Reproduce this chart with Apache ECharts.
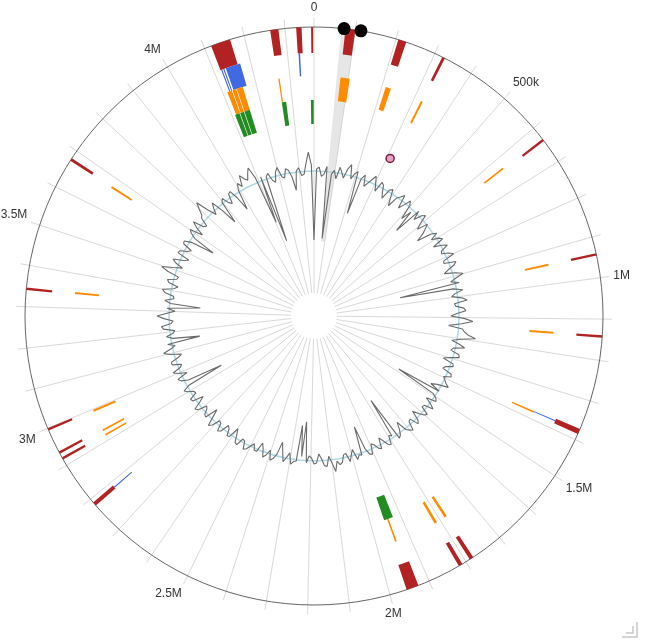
<!DOCTYPE html>
<html><head><meta charset="utf-8">
<script src="https://cdn.jsdelivr.net/npm/echarts@6/dist/echarts.min.js"></script>
<style>html,body{margin:0;padding:0;background:#fff}#c{width:648px;height:640px}</style>
</head><body><div id="c"></div>
<script>
const genomeLength = 4370000;
const tickValues = [0, 500000, 1000000, 1500000, 2000000, 2500000, 3000000, 3500000, 4000000];
const tickText = ['0', '500k', '1M', '1.5M', '2M', '2.5M', '3M', '3.5M', '4M'];

const redFeatures = [
  [4363000, 4368000], [4327000, 4340000], [4264000, 4284000], [4117000, 4165000],
  [76000, 100000], [206000, 226000], [320000, 327000], [634000, 640000],
  [940000, 946000], [1139000, 1145000], [1372000, 1385000], [1810000, 1820000],
  [1779000, 1789000], [1928000, 1958000], [2780000, 2790000], [2916000, 2922000],
  [2932000, 2938000], [2994000, 3000000], [3340000, 3346000], [3672000, 3679000]
];
const blueFeatures = [
  [4132000, 4172000], [4119000, 4122000], [4125000, 4128000], [4329000, 4333000],
  [1376000, 1379000], [2783000, 2786000]
];
const orangeFeatures = [
  [4113000, 4127000], [4129000, 4140000], [4142000, 4160000], [4266000, 4270000],
  [77000, 104000], [211000, 227000], [321000, 327000], [629000, 634000],
  [940000, 946000], [1138000, 1144000], [1376000, 1381000], [1811000, 1819000],
  [1777000, 1785000], [1940000, 1945000], [2992000, 2998000], [2930000, 2935000],
  [2915000, 2920000], [3341000, 3347000], [3669000, 3675000]
];
const greenFeatures = [
  [4110000, 4125000], [4127000, 4140000], [4142000, 4160000], [4266000, 4280000],
  [4360000, 4369000], [1925000, 1955000]
];
const highlightRegions = [[66000, 100000]];
const blackMarkers = [72500, 113500];
const pinkMarkers = [313000];

// sliding-window values (deviation from mean), one per 1/360 of the genome
const gcValues = [
  -69, 2, 4, -5, -3, 5, -67, -2, 2, -6, 6, 1, -4, 6, 11, -3, 3, 6, -37, 0,
  5, -6, -2, 3, 8, 1, -6, 5, 3, -4, -9, 2, 4, -5, -12, -1, 2, 6, -8, -2,
  5, 1, -14, -3, -26, 3, -6, 2, 5, -4, -10, 1, -4, -9, -17, -2, 3, -5, 2, 5,
  -7, 1, 6, -2, -3, 4, 8, -4, -5, 7, 4, -3, -8, 3, 10, 2, -4, 4, -57, -3,
  6, -2, -6, 4, 9, -4, -3, 5, 7, -2, -8, 6, 14, 3, -10, 4, 6, 10, 18, 4,
  -5, 3, 9, -2, -4, 5, 6, -3, -9, 2, 3, -4, -6, 4, 5, -2, -3, 3, 7, -4,
  -10, 1, -45, -3, 2, 4, -6, 1, 6, -3, -4, 5, 3, -2, -8, 2, 5, -4, -3, 6,
  4, 1, -10, -3, 2, 4, -43, -2, -4, 5, 3, -2, -7, 4, 2, -3, -5, 5, 4, -3,
  -27, 2, 1, 5, -6, -1, 5, -4, -3, 4, 6, 2, 12, 3, -4, 6, 5, -2, -7, 2,
  3, -3, -5, 2, -39, -4, -35, 1, 2, 5, -6, -1, 4, -6, -15, -2, 3, 6, -4, 2,
  5, -3, -8, 2, 2, -4, -5, 4, 6, -2, -3, 5, 4, -3, -9, 2, 3, -4, -6, 3,
  5, -3, -4, 4, 7, -2, -10, 3, 2, -3, -5, 4, 6, -2, -8, 3, 4, -4, -3, 2,
  5, -2, -40, -4, 3, 5, -6, 2, 7, -2, -4, 5, 5, -3, -7, 4, 10, 2, -3, 4,
  -29, -2, 4, -3, -5, 6, 8, -2, -4, 5, 12, 3, -6, 2, -31, -1, 5, -4, -3, 6,
  9, -2, -6, 4, 6, -3, -4, 8, 15, 4, -5, 3, 7, -3, -8, 5, 4, -3, -6, 4,
  5, -2, -26, -3, 3, 6, -7, 2, 8, -3, -5, 4, 6, 12, 18, 5, -4, 2, 7, -5,
  -22, 1, 4, -3, -6, 4, 5, -4, -19, 2, 8, 3, 14, 9, 6, 12, 17, 5, -44, 4,
  -65, 2, 5, -3, -6, 4, 8, -2, -4, 5, 3, -4, -18, 1, 4, -4, -3, 8, 19, 6
];

const CX = 314, CY = 316;
const R_OUT = 289;
const tracks = {
  red: [263, 289, '#b22222'],
  blue: [240, 263, '#4169e1'],
  orange: [216, 240, '#ff8c00'],
  green: [192, 216, '#228b22']
};

function sectorRender(rIn, rOut, color, opacity) {
  return function (params, api) {
    const c = params.coordSys;
    const s = api.value(0), e = api.value(1);
    const a = api.coord([rIn, s]);
    const b = api.coord([rOut, e]);
    const sa = Math.atan2(a[1] - c.cy, a[0] - c.cx);
    let ea = Math.atan2(b[1] - c.cy, b[0] - c.cx);
    if (ea < sa) ea += Math.PI * 2;
    const r0 = Math.hypot(a[0] - c.cx, a[1] - c.cy);
    const r = Math.hypot(b[0] - c.cx, b[1] - c.cy);
    return {
      type: 'sector',
      shape: { cx: c.cx, cy: c.cy, r0: r0, r: r, startAngle: sa, endAngle: ea, clockwise: true },
      style: { fill: color, opacity: opacity == null ? 1 : opacity }
    };
  };
}
function circleRender(radiusValue, stroke, width) {
  return function (params, api) {
    const c = params.coordSys;
    const p = api.coord([radiusValue, 0]);
    return {
      type: 'circle',
      shape: { cx: c.cx, cy: c.cy, r: Math.hypot(p[0] - c.cx, p[1] - c.cy) },
      style: { fill: 'none', stroke: stroke, lineWidth: width }
    };
  };
}
function trackSeries(list, key) {
  const t = tracks[key];
  return {
    type: 'custom', coordinateSystem: 'polar', polarIndex: 0, z: 3,
    data: list, renderItem: sectorRender(t[0], t[1], t[2]), silent: true
  };
}

const step = genomeLength / gcValues.length;
const lineData = gcValues.map((v, i) => [v, i * step]);
lineData.push([gcValues[0], genomeLength]);

const chart = echarts.init(document.getElementById('c'), null, { renderer: 'canvas' });
chart.setOption({
  animation: false,
  backgroundColor: '#fff',
  polar: [
    { center: [CX, CY], radius: [23, 298] },
    { center: [CX, CY], radius: [75, 165] }
  ],
  angleAxis: [
    {
      polarIndex: 0, type: 'value', min: 0, max: genomeLength, interval: 100000,
      startAngle: 90, clockwise: true,
      axisLine: { show: false }, axisTick: { show: false },
      splitLine: { show: true, lineStyle: { color: '#d9d9d9', width: 1 } },
      axisLabel: {
        show: true, margin: 4, color: '#333', fontSize: 12,
        fontFamily: 'Liberation Sans, Arial, sans-serif',
        formatter: function (v) { const i = tickValues.indexOf(v); return i >= 0 ? tickText[i] : ''; }
      }
    },
    {
      polarIndex: 1, type: 'value', min: 0, max: genomeLength, startAngle: 90, clockwise: true,
      axisLine: { show: false }, axisTick: { show: false }, axisLabel: { show: false }, splitLine: { show: false }
    }
  ],
  radiusAxis: [
    { polarIndex: 0, type: 'value', min: 23, max: 298, axisLine: { show: false }, axisTick: { show: false }, axisLabel: { show: false }, splitLine: { show: false } },
    { polarIndex: 1, type: 'value', min: -70, max: 20, axisLine: { show: false }, axisTick: { show: false }, axisLabel: { show: false }, splitLine: { show: false } }
  ],
  series: [
    {
      type: 'custom', coordinateSystem: 'polar', polarIndex: 0, z: 2, silent: true,
      data: highlightRegions, renderItem: sectorRender(75, R_OUT, '#c8c8c8', 0.45)
    },
    {
      type: 'custom', coordinateSystem: 'polar', polarIndex: 0, z: 2, silent: true,
      data: [[0]], renderItem: circleRender(R_OUT, '#666', 1)
    },
    trackSeries(redFeatures, 'red'),
    trackSeries(blueFeatures, 'blue'),
    trackSeries(orangeFeatures, 'orange'),
    trackSeries(greenFeatures, 'green'),
    {
      type: 'custom', coordinateSystem: 'polar', polarIndex: 1, z: 3, silent: true,
      data: [[0]], renderItem: circleRender(0, '#add8e6', 1.5)
    },
    {
      type: 'line', coordinateSystem: 'polar', polarIndex: 1, z: 4, silent: true,
      data: lineData, symbol: 'none', smooth: false,
      lineStyle: { color: '#6a6a6a', width: 1.1 }
    },
    {
      type: 'scatter', coordinateSystem: 'polar', polarIndex: 0, z: 6, silent: true,
      data: blackMarkers.map(p => [R_OUT, p]), symbolSize: 13,
      itemStyle: { color: '#000', opacity: 1 }
    },
    {
      type: 'scatter', coordinateSystem: 'polar', polarIndex: 0, z: 6, silent: true,
      data: pinkMarkers.map(p => [175, p]), symbolSize: 8,
      itemStyle: { color: '#e3a3c6', borderColor: '#7a1f3d', borderWidth: 1.5, opacity: 1 }
    }
  ],
  graphic: [
    { type: 'polyline', shape: { points: [[622, 637], [637, 637], [637, 622]] }, style: { stroke: '#c8c8c8', lineWidth: 1.5, fill: 'none' } },
    { type: 'polyline', shape: { points: [[626, 633], [633, 633], [633, 626]] }, style: { stroke: '#c8c8c8', lineWidth: 1.5, fill: 'none' } }
  ]
});
</script></body></html>
